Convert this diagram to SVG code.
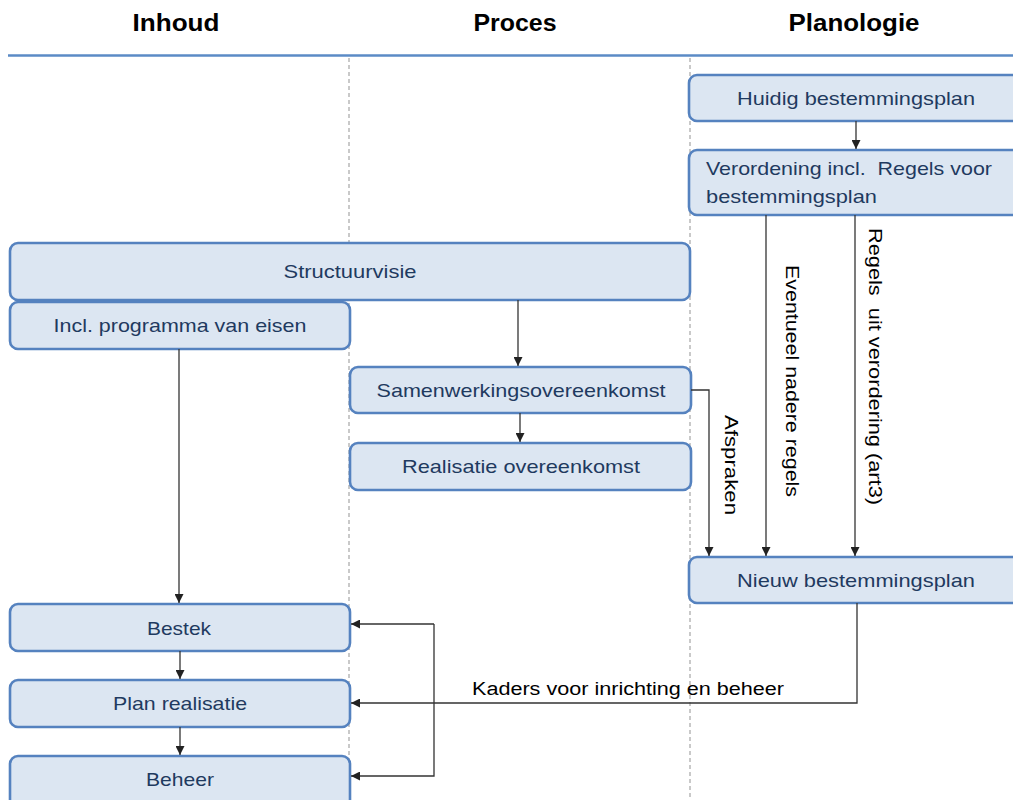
<svg xmlns="http://www.w3.org/2000/svg" width="1013" height="800" viewBox="0 0 1013 800">
<defs>
<marker id="ah" viewBox="0 0 10 10" refX="10" refY="5" markerWidth="9" markerHeight="9" markerUnits="userSpaceOnUse" orient="auto">
<path d="M0,0 L10,5 L0,10 z" fill="#222"/>
</marker>
<style>
.node{fill:#DCE6F2;stroke:#5582BF;stroke-width:2.6}
.nt{font-family:"Liberation Sans",Arial,sans-serif;font-size:19px;fill:#1F3A60;text-anchor:middle}
.nl{font-family:"Liberation Sans",Arial,sans-serif;font-size:19px;fill:#1F3A60;white-space:pre}
.hd{font-family:"Liberation Sans",Arial,sans-serif;font-size:23px;font-weight:bold;fill:#000;text-anchor:middle}
.lab{font-family:"Liberation Sans",Arial,sans-serif;font-size:18px;fill:#000;white-space:pre}
.con{fill:none;stroke:#333;stroke-width:1.3}
.sep{stroke:#A6A6A6;stroke-width:1.2;stroke-dasharray:4,3}
</style>
</defs>
<rect width="1013" height="800" fill="#fff"/>
<g id="header">
<text class="hd" x="176" y="31" textLength="87" lengthAdjust="spacingAndGlyphs">Inhoud</text>
<text class="hd" x="515" y="31" textLength="83" lengthAdjust="spacingAndGlyphs">Proces</text>
<text class="hd" x="854" y="31" textLength="131" lengthAdjust="spacingAndGlyphs">Planologie</text>
<line x1="8" y1="55.5" x2="1013" y2="55.5" stroke="#5B8BC6" stroke-width="2.5"/>
<line class="sep" x1="349" y1="58" x2="349" y2="800"/>
<line class="sep" x1="690" y1="58" x2="690" y2="800"/>
</g>
<g id="n-huidig">
<rect class="node" x="689" y="75" width="340" height="46" rx="8"/>
<text class="nt" x="856" y="105" textLength="238" lengthAdjust="spacingAndGlyphs">Huidig bestemmingsplan</text>
</g>
<g id="n-verordening">
<rect class="node" x="689" y="150" width="340" height="65" rx="8"/>
<text class="nl" x="706" y="175" textLength="286" lengthAdjust="spacingAndGlyphs" xml:space="preserve">Verordening incl.  Regels voor</text>
<text class="nl" x="706" y="203" textLength="171" lengthAdjust="spacingAndGlyphs">bestemmingsplan</text>
</g>
<g id="n-structuurvisie">
<rect class="node" x="10" y="243" width="680" height="57" rx="8"/>
<text class="nt" x="350" y="278" textLength="133" lengthAdjust="spacingAndGlyphs">Structuurvisie</text>
</g>
<g id="n-programma">
<rect class="node" x="10" y="302" width="340" height="47" rx="8"/>
<text class="nt" x="180" y="332" textLength="253" lengthAdjust="spacingAndGlyphs">Incl. programma van eisen</text>
</g>
<g id="n-samenwerking">
<rect class="node" x="350" y="367" width="341" height="46" rx="8"/>
<text class="nt" x="521" y="397" textLength="289" lengthAdjust="spacingAndGlyphs">Samenwerkingsovereenkomst</text>
</g>
<g id="n-realisatie">
<rect class="node" x="350" y="443" width="341" height="47" rx="8"/>
<text class="nt" x="521" y="473" textLength="238" lengthAdjust="spacingAndGlyphs">Realisatie overeenkomst</text>
</g>
<g id="n-nieuw">
<rect class="node" x="689" y="557" width="340" height="46" rx="8"/>
<text class="nt" x="856" y="587" textLength="238" lengthAdjust="spacingAndGlyphs">Nieuw bestemmingsplan</text>
</g>
<g id="n-bestek">
<rect class="node" x="10" y="604" width="340" height="47" rx="8"/>
<text class="nt" x="179" y="635" textLength="64" lengthAdjust="spacingAndGlyphs">Bestek</text>
</g>
<g id="n-plan">
<rect class="node" x="10" y="680" width="340" height="47" rx="8"/>
<text class="nt" x="180" y="710" textLength="134" lengthAdjust="spacingAndGlyphs">Plan realisatie</text>
</g>
<g id="n-beheer">
<rect class="node" x="10" y="756" width="340" height="60" rx="8"/>
<text class="nt" x="180" y="786" textLength="68" lengthAdjust="spacingAndGlyphs">Beheer</text>
</g>
<g id="connectors">
<path class="con" d="M856,121 V149" marker-end="url(#ah)"/>
<path class="con" d="M518,300 V366" marker-end="url(#ah)"/>
<path class="con" d="M520,413 V442" marker-end="url(#ah)"/>
<path class="con" d="M691,390 H709 V556" marker-end="url(#ah)"/>
<path class="con" d="M766,215 V556" marker-end="url(#ah)"/>
<path class="con" d="M855,215 V556" marker-end="url(#ah)"/>
<path class="con" d="M179,349 V603" marker-end="url(#ah)"/>
<path class="con" d="M180,651 V679" marker-end="url(#ah)"/>
<path class="con" d="M180,727 V755" marker-end="url(#ah)"/>
<path class="con" d="M857,603 V703 H351" marker-end="url(#ah)"/>
<path class="con" d="M434,624 H351" marker-end="url(#ah)"/>
<path class="con" d="M434,624 V776 H351" marker-end="url(#ah)"/>
<text class="lab" x="472" y="695" textLength="312" lengthAdjust="spacingAndGlyphs">Kaders voor inrichting en beheer</text>
<text class="lab" transform="translate(725,415) rotate(90)" textLength="100" lengthAdjust="spacingAndGlyphs">Afspraken</text>
<text class="lab" transform="translate(786,265) rotate(90)" textLength="232" lengthAdjust="spacingAndGlyphs">Eventueel nadere regels</text>
<text class="lab" transform="translate(869,228) rotate(90)" textLength="277" lengthAdjust="spacingAndGlyphs" xml:space="preserve">Regels  uit verordering (art3)</text>
</g>
</svg>
